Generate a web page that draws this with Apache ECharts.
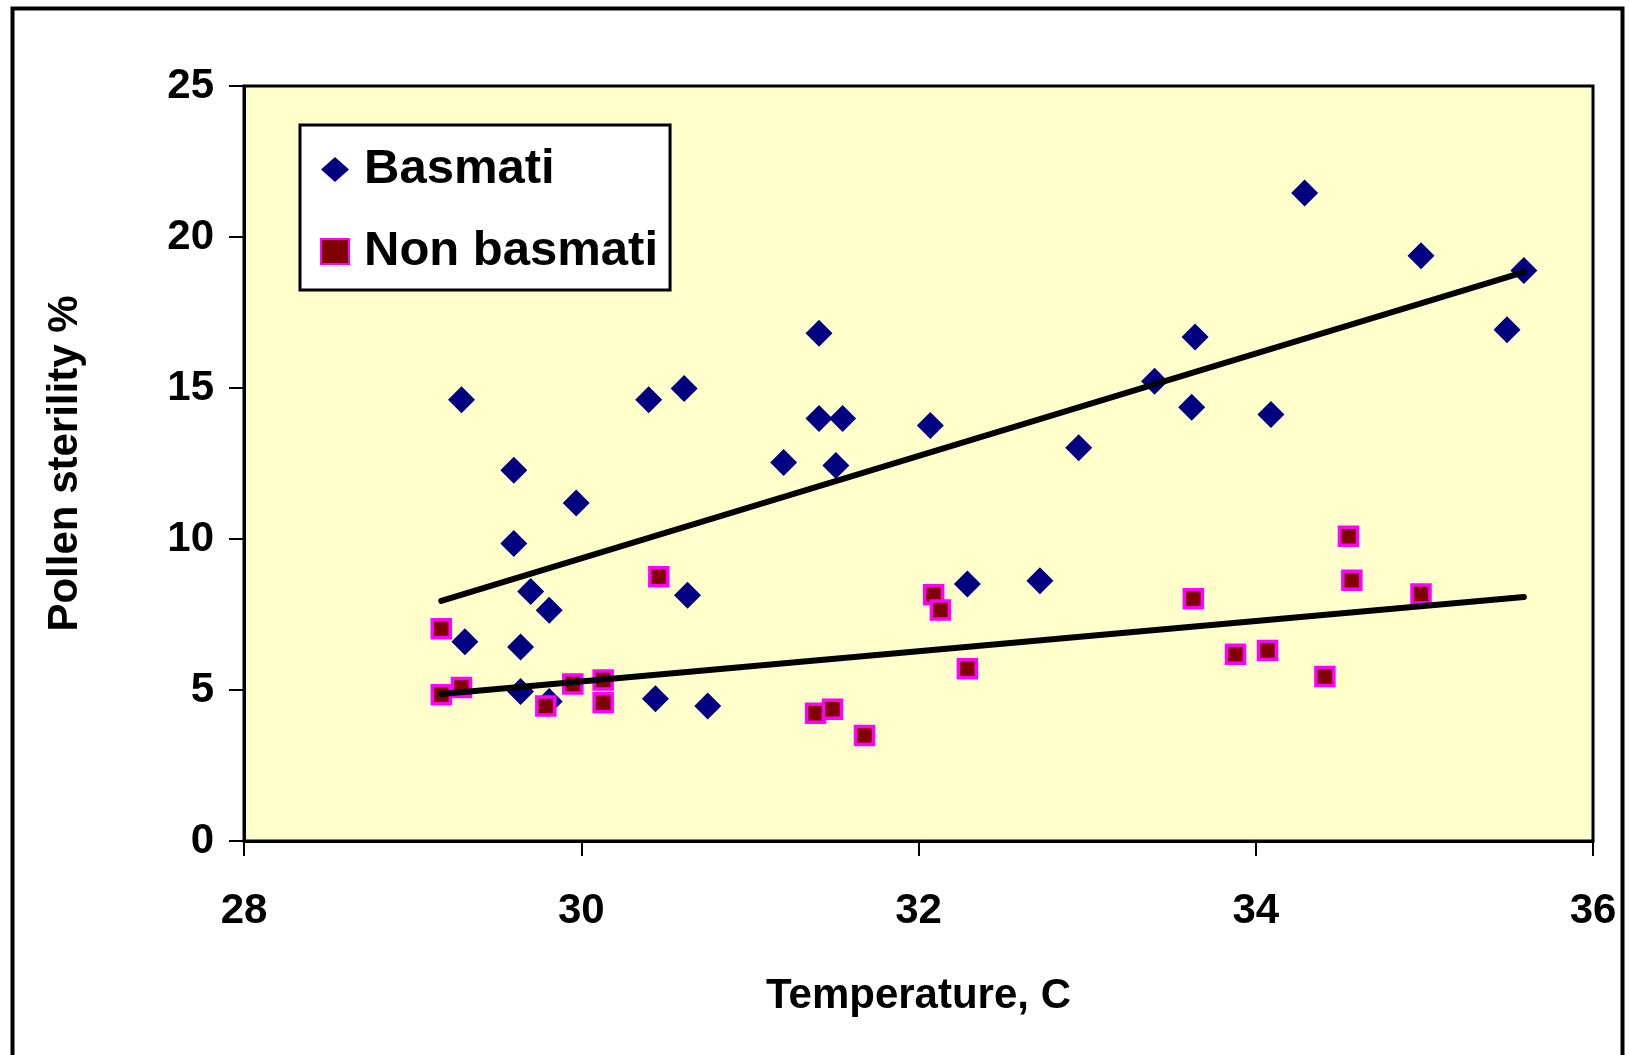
<!DOCTYPE html>
<html>
<head>
<meta charset="utf-8">
<script src="https://cdn.jsdelivr.net/npm/echarts@6/dist/echarts.min.js"></script>
<style>
  html, body { margin: 0; padding: 0; background: #ffffff; }
  #chart { width: 1629px; height: 1055px; }
</style>
</head>
<body>
<div id="chart"></div>
<script>
// Basmati points: [temperature, pollen sterility %]
const basmatiX = [29.29, 29.60, 29.97, 29.60, 30.40, 30.61, 31.41, 31.41, 31.55, 31.20, 31.51,
  29.70, 29.81, 30.63, 29.31, 29.64, 29.64, 29.81, 30.44, 30.75, 32.07, 32.95, 33.40, 33.64,
  33.62, 32.29, 32.72, 34.29, 34.98, 35.59, 35.49, 34.09];
const basmatiY = [14.61, 12.28, 11.19, 9.85, 14.61, 14.98, 16.81, 13.99, 13.99, 12.53, 12.43,
  8.26, 7.64, 8.14, 6.60, 6.42, 4.95, 4.62, 4.71, 4.47, 13.76, 13.02, 15.22, 16.69,
  14.36, 8.51, 8.62, 21.46, 19.38, 18.89, 16.93, 14.12];

// Non basmati points
const nonBasmatiX = [29.17, 29.29, 29.17, 29.95, 30.13, 30.13, 29.79, 30.46, 31.39, 31.49, 31.68,
  32.09, 32.13, 32.29, 33.63, 33.88, 34.07, 34.41, 34.55, 34.57, 34.98];
const nonBasmatiY = [7.03, 5.08, 4.84, 5.20, 5.33, 4.58, 4.47, 8.75, 4.23, 4.36, 3.49,
  8.15, 7.65, 5.70, 8.02, 6.18, 6.31, 5.45, 10.09, 8.63, 8.18];

// Trend lines (end points)
const basmatiTrendX = [29.17, 35.59];
const basmatiTrendY = [7.95, 18.84];
const nonBasmatiTrendX = [29.17, 35.59];
const nonBasmatiTrendY = [4.87, 8.08];

const xTicks = { min: 28, max: 36, interval: 2 };
const yTicks = { min: 0, max: 25, interval: 5 };

const zip = (xs, ys) => xs.map((x, i) => [x, ys[i]]);

const FONT = "'Liberation Sans', Arial, sans-serif";

const chart = echarts.init(document.getElementById('chart'), null, { renderer: 'canvas' });
chart.setOption({
  backgroundColor: '#ffffff',
  animation: false,
  graphic: [{
    type: 'rect',
    left: 10, top: 6,
    shape: { width: 1610, height: 1100 },
    style: { fill: 'none', stroke: '#000000', lineWidth: 4 },
    z: -10
  }],
  grid: {
    left: 244, right: 36, top: 86, bottom: 214,
    show: true,
    backgroundColor: '#FFFFCC',
    borderColor: '#000000',
    borderWidth: 3
  },
  legend: {
    orient: 'vertical',
    left: 300, top: 125,
    data: ['Basmati', 'Non basmati'],
    backgroundColor: '#ffffff',
    borderColor: '#000000',
    borderWidth: 3,
    borderRadius: 0,
    padding: [20, 12, 14, 20],
    itemGap: 33,
    itemWidth: 28,
    itemHeight: 25,
    textStyle: { fontFamily: FONT, fontWeight: 'bold', fontSize: 49, color: '#000000', padding: [0, 0, 0, 10] }
  },
  xAxis: {
    type: 'value',
    min: xTicks.min, max: xTicks.max, interval: xTicks.interval,
    name: 'Temperature, C',
    nameLocation: 'middle',
    nameGap: 134,
    nameTextStyle: { fontFamily: FONT, fontWeight: 'bold', fontSize: 42, color: '#000000' },
    axisLine: { show: true, lineStyle: { color: '#000000', width: 3 } },
    axisTick: { show: true, inside: false, length: 15, lineStyle: { color: '#000000', width: 2 } },
    axisLabel: { fontFamily: FONT, fontWeight: 'bold', fontSize: 42, color: '#000000', margin: 49 },
    splitLine: { show: false }
  },
  yAxis: {
    type: 'value',
    min: yTicks.min, max: yTicks.max, interval: yTicks.interval,
    name: 'Pollen sterility %',
    nameLocation: 'middle',
    nameGap: 158,
    nameTextStyle: { fontFamily: FONT, fontWeight: 'bold', fontSize: 42, color: '#000000' },
    axisLine: { show: true, lineStyle: { color: '#000000', width: 3 } },
    axisTick: { show: true, inside: false, length: 15, lineStyle: { color: '#000000', width: 2 } },
    axisLabel: { fontFamily: FONT, fontWeight: 'bold', fontSize: 42, color: '#000000', margin: 30 },
    splitLine: { show: false }
  },
  series: [
    {
      name: 'Basmati',
      type: 'scatter',
      symbol: 'diamond',
      symbolSize: 27,
      itemStyle: { color: '#000080', opacity: 1 },
      data: zip(basmatiX, basmatiY),
      z: 2
    },
    {
      name: 'Non basmati',
      type: 'scatter',
      symbol: 'rect',
      symbolSize: 18,
      itemStyle: { color: '#800000', borderColor: '#FF00FF', borderWidth: 3.5, opacity: 1 },
      data: zip(nonBasmatiX, nonBasmatiY),
      z: 3
    },
    {
      name: 'Basmati trend',
      type: 'line',
      showSymbol: false,
      symbol: 'none',
      lineStyle: { color: '#000000', width: 6, cap: 'round' },
      data: zip(basmatiTrendX, basmatiTrendY),
      z: 4,
      silent: true
    },
    {
      name: 'Non basmati trend',
      type: 'line',
      showSymbol: false,
      symbol: 'none',
      lineStyle: { color: '#000000', width: 6, cap: 'round' },
      data: zip(nonBasmatiTrendX, nonBasmatiTrendY),
      z: 4,
      silent: true
    }
  ]
});
</script>
</body>
</html>
